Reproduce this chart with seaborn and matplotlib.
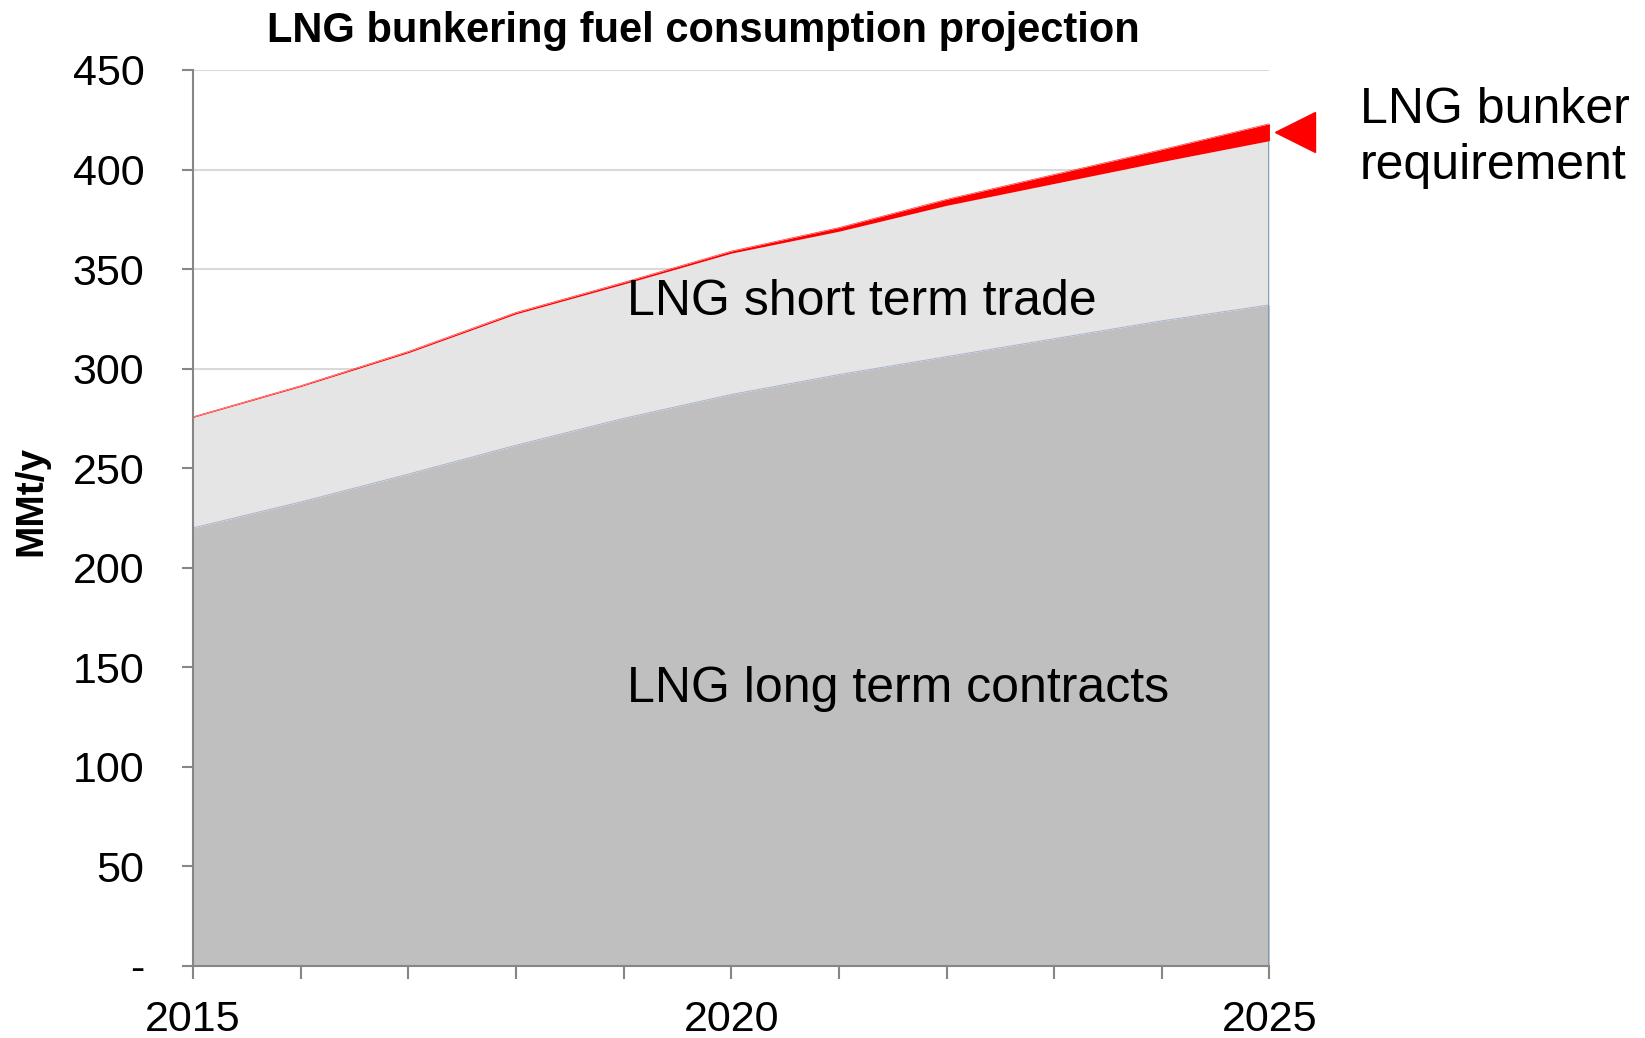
import matplotlib
matplotlib.use("Agg")
import matplotlib.pyplot as plt
import numpy as np
import pandas as pd
import seaborn as sns

# values (MMt/y)
years = [2015, 2016, 2017, 2018, 2019, 2020, 2021, 2022, 2023, 2024, 2025]
long_term = [220, 233, 247, 261.5, 275, 287, 297, 306, 315, 324, 332]
short_term = [55.5, 58, 61, 66, 67.5, 71, 72, 76, 78, 80, 82.5]
bunker = [0.3, 0.4, 0.6, 0.7, 0.8, 1.0, 1.8, 3.0, 4.5, 6.0, 8.5]
year_labels = ["2015", "", "", "", "", "2020", "", "", "", "", "2025"]
y_ticks = [0, 50, 100, 150, 200, 250, 300, 350, 400, 450]
y_labels = ["-", "50", "100", "150", "200", "250", "300", "350", "400", "450"]

df = pd.DataFrame({"year": years, "long": long_term, "short": short_term, "bunker": bunker})
df["top_long"] = df["long"]
df["top_short"] = df["long"] + df["short"]
df["top_all"] = df["top_short"] + df["bunker"]

sns.set_theme(style="white")
plt.rcParams["font.family"] = ["Liberation Sans", "DejaVu Sans"]
plt.rcParams["text.color"] = "black"
plt.rcParams["xtick.labelcolor"] = "black"
plt.rcParams["ytick.labelcolor"] = "black"

fig = plt.figure(figsize=(16.45, 10.38), dpi=100)
ax = fig.add_axes([0.1173, 0.0694, 0.6544, 0.8632])

grey = "#868686"
ax.set_axisbelow(True)
ax.yaxis.grid(True, color="#d9d9d9", linewidth=1.5, zorder=0)

ax.stackplot(df["year"], df["long"], df["short"], df["bunker"],
             colors=["#bfbfbf", "#e5e5e5", "#ff0000"], linewidth=0, zorder=2)
sns.lineplot(data=df, x="year", y="top_long", ax=ax, color="#a9b4c8", linewidth=0.7, zorder=3)
sns.lineplot(data=df, x="year", y="top_all", ax=ax, color="#ff3030", linewidth=0.5, zorder=3)
ax.vlines(df["year"].iloc[-1], 0, df["top_short"].iloc[-1], color="#6f8fc4", linewidth=1.2, zorder=3)

# arrow marker pointing at the bunker band
ax.plot([df["year"].iloc[-1] + 0.24], [df["top_all"].iloc[-1] - 4], marker="<",
        markersize=29, color="#ff0000", clip_on=False, zorder=5)

ax.set_xlim(2015, 2025)
ax.set_ylim(0, 450)
ax.set_xticks(years)
ax.set_xticklabels(year_labels)
ax.set_yticks(y_ticks)
ax.set_yticklabels(y_labels)
ax.set_xlabel("")
ax.set_ylabel("")

ax.tick_params(axis="x", direction="out", length=9.5, width=1.5, color=grey,
               labelsize=31, pad=15, bottom=True, labelcolor="black")
ax.tick_params(axis="y", direction="out", length=8, width=1.5, color=grey,
               labelsize=31, pad=27, left=True, labelcolor="black")
for side in ["top", "right"]:
    ax.spines[side].set_visible(False)
for side in ["left", "bottom"]:
    ax.spines[side].set_color(grey)
    ax.spines[side].set_linewidth(1.5)
    ax.spines[side].set_zorder(4)

ax.text(2019.03, 333.5, "LNG short term trade", fontsize=36, va="center", ha="left",
        color="black", zorder=6)
ax.text(2019.03, 139, "LNG long term contracts", fontsize=36, va="center", ha="left",
        color="black", zorder=6)

fig.text(0.8267, 0.867, "LNG bunker\nrequirement", fontsize=36, va="center", ha="left",
         linespacing=1.28, color="black")
fig.text(0.4274, 0.970, "LNG bunkering fuel consumption projection", fontsize=30,
         fontweight="bold", ha="center", va="center", color="black")
fig.text(0.019, 0.517, "MMt/y", fontsize=28, fontweight="bold", rotation=90,
         ha="center", va="center", color="black")

fig.savefig("out.png", dpi=100)
